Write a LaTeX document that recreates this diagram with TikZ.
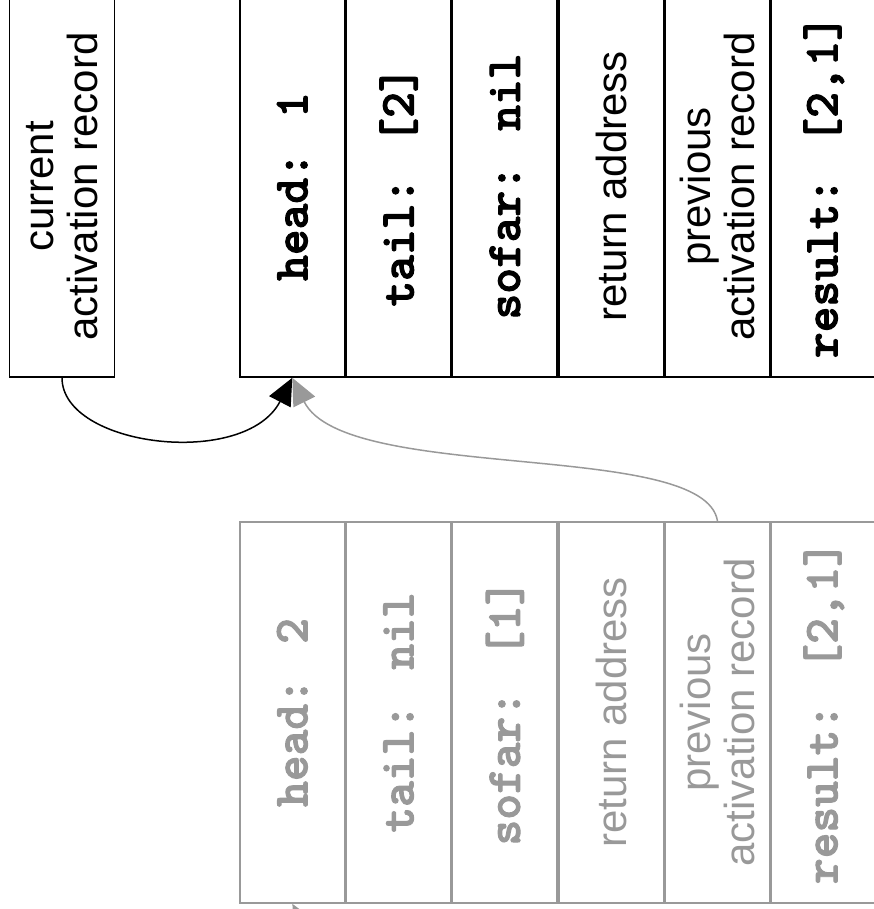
\documentclass[tikz,border=0pt]{standalone}
\usepackage{fontspec}
\setmainfont{Liberation Sans}
\newfontfamily\codefont{lmmonolt10-bold.otf}[FakeBold=2]
\usetikzlibrary{arrows.meta,positioning}
\definecolor{oldgray}{RGB}{153,153,153}
\newcommand{\field}[1]{{\fontsize{49}{50}\selectfont\codefont #1}}

\begin{document}
\begin{tikzpicture}[x=1pt,y=1pt]
    \tikzstyle{cell}=[draw, line width=1.6pt, rotate=90, minimum width=381pt, minimum height=104.7pt, inner sep=0pt, align=center, font=\fontsize{42}{44}\selectfont]
    \tikzstyle{oldcell}=[cell, draw=oldgray, text=oldgray]
    \tikzstyle{link}=[line width=1.5pt, -{Triangle[length=27pt,width=24pt]}]
    \tikzstyle{oldlink}=[link, oldgray]
    \useasboundingbox (0,0) rectangle (874,909);
    \clip (0,0) rectangle (874,909);
    % pointer to the current record
    \node[cell] (cur) at (62,722.5) {current\\activation record};
    % current record
    \node[cell] (hd1) at (292.3,722.5) {\field{head: 1}};
    \node[cell, anchor=north] (tl1) at (hd1.south) {\field{tail: [2]}};
    \node[cell, anchor=north] (sf1) at (tl1.south) {\field{sofar: nil}};
    \node[cell, anchor=north] (ra1) at (sf1.south) {return address};
    \node[cell, anchor=north] (pr1) at (ra1.south) {previous\\activation record};
    \node[cell, anchor=north] (rs1) at (pr1.south) {\field{result: [2,1]}};
    % older record
    \node[oldcell] (hd2) at (292.3,196.5) {\field{head: 2}};
    \node[oldcell, anchor=north] (tl2) at (hd2.south) {\field{tail: nil}};
    \node[oldcell, anchor=north] (sf2) at (tl2.south) {\field{sofar: [1]}};
    \node[oldcell, anchor=north] (ra2) at (sf2.south) {return address};
    \node[oldcell, anchor=north] (pr2) at (ra2.south) {previous\\activation record};
    \node[oldcell, anchor=north] (rs2) at (pr2.south) {\field{result: [2,1]}};
    \coordinate (nextrec) at (420,-90);
    % links
    \draw[link] (cur.west) .. controls (62,462) and (245,440) .. (hd1.west);
    \draw[oldlink] (pr2.east) .. controls (705,470) and (345,425) .. (hd1.west);
    \draw[oldlink] (nextrec) .. controls (400,-40) and (312,-30) .. (hd2.west);
\end{tikzpicture}
\end{document}
